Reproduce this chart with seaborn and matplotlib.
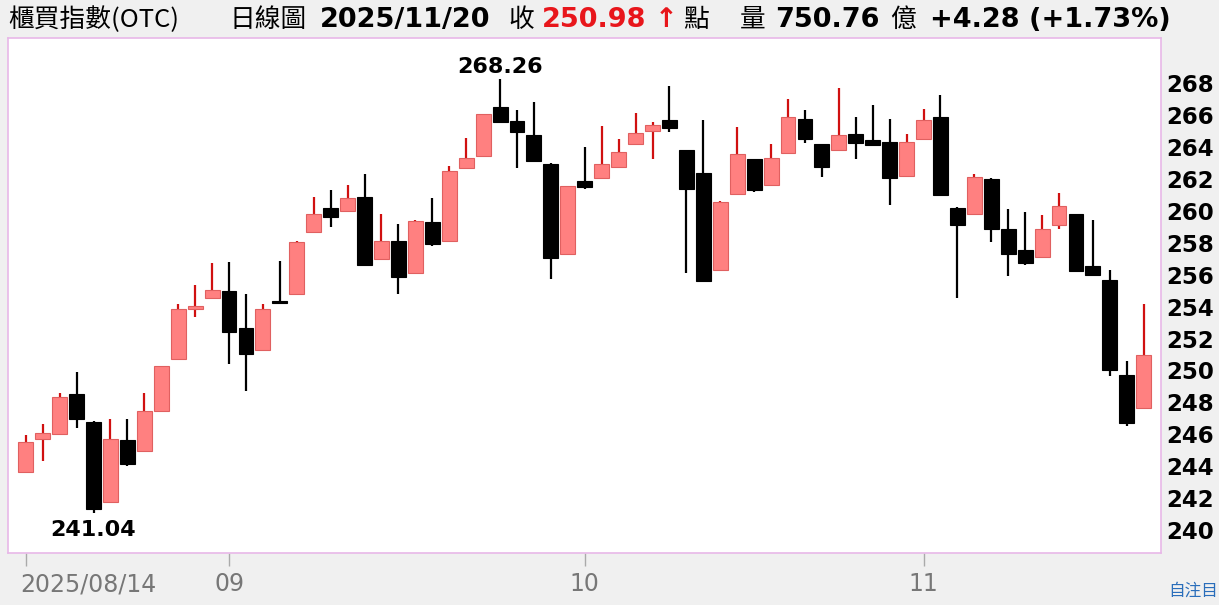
import numpy as np
import pandas as pd
import seaborn as sns
import matplotlib.pyplot as plt
import matplotlib.transforms as mtransforms

# ---------------------------------------------------------
# Datos: índice OTC diario (apertura, máximo, mínimo, cierre)
# ---------------------------------------------------------
fecha_inicio = "2025-08-14"
fecha_fin = "2025-11-20"
feriados = ["2025-09-29", "2025-10-06", "2025-10-10", "2025-10-24"]

aperturas = [243.65, 245.68, 246.01, 248.50, 246.74, 241.77, 245.62, 244.97, 247.47, 250.69,
             253.87, 254.51, 254.99, 252.68, 251.26, 254.27, 254.76, 258.69, 260.15, 259.99,
             260.89, 256.96, 258.11, 256.12, 259.28, 258.11, 262.66, 263.46, 266.48, 265.61,
             264.77, 262.95, 257.27, 261.87, 262.08, 262.77, 264.17, 265.00, 265.67, 263.79,
             262.35, 256.27, 261.03, 263.23, 261.62, 263.64, 265.75, 264.17, 263.79, 264.81,
             264.44, 264.33, 262.18, 264.50, 265.86, 260.20, 259.82, 262.01, 258.88, 257.54,
             257.13, 259.09, 259.80, 256.56, 255.64, 249.71, 247.66]
maximos = [245.95, 246.62, 248.56, 249.92, 246.80, 246.93, 246.95, 248.56, 250.30, 254.16,
           255.35, 256.71, 256.77, 254.79, 254.18, 256.87, 258.08, 260.84, 261.30, 261.60,
           262.29, 259.80, 259.17, 259.40, 260.78, 262.81, 264.54, 266.09, 268.26, 266.32,
           266.84, 262.98, 261.57, 264.02, 265.29, 264.48, 266.15, 265.59, 267.82, 263.82,
           265.67, 260.59, 265.25, 263.25, 264.19, 266.99, 266.32, 264.19, 267.68, 265.86,
           266.63, 265.73, 264.81, 266.38, 267.28, 260.22, 262.29, 262.03, 260.09, 259.92,
           259.74, 261.09, 259.82, 259.40, 256.27, 250.57, 254.18]
minimos = [243.60, 244.34, 245.98, 246.41, 241.04, 241.72, 244.03, 244.95, 247.41, 250.65,
           253.37, 254.49, 250.40, 248.73, 251.22, 254.18, 254.72, 258.66, 258.96, 259.95,
           256.58, 256.93, 254.76, 256.10, 257.79, 258.08, 262.64, 263.44, 265.57, 262.66,
           263.04, 255.71, 257.25, 261.39, 262.06, 262.75, 264.15, 263.23, 264.92, 256.12,
           255.58, 256.25, 261.01, 261.16, 261.60, 263.62, 264.23, 262.14, 263.77, 263.27,
           264.08, 260.36, 262.16, 264.48, 260.97, 254.54, 259.80, 258.07, 255.91, 256.62,
           257.11, 258.88, 256.23, 255.90, 249.67, 246.53, 247.64]
cierres = [245.53, 246.05, 248.31, 246.95, 241.29, 245.68, 244.11, 247.47, 250.27, 253.85,
           254.03, 255.04, 252.38, 251.05, 253.85, 254.22, 258.04, 259.80, 259.63, 260.78,
           256.60, 258.11, 255.83, 259.36, 257.90, 262.49, 263.29, 266.07, 265.59, 264.92,
           263.14, 257.02, 261.55, 261.47, 262.95, 263.69, 264.85, 265.36, 265.21, 261.37,
           255.60, 260.57, 263.54, 261.30, 263.29, 265.88, 264.48, 262.72, 264.73, 264.23,
           264.10, 262.03, 264.33, 265.69, 260.99, 259.13, 262.14, 258.86, 257.29, 256.71,
           258.84, 260.32, 256.25, 255.98, 250.02, 246.70, 250.98]
volumen_ultimo = "750.76"
ticks_y = list(range(240, 270, 2))

fechas = pd.bdate_range(fecha_inicio, fecha_fin)
fechas = fechas[~fechas.isin(pd.to_datetime(feriados))]
df = pd.DataFrame({"fecha": fechas, "apertura": aperturas, "maximo": maximos,
                   "minimo": minimos, "cierre": cierres})
df["pos"] = np.arange(len(df))
df["sube"] = df["cierre"] >= df["apertura"]

# primer día de cada mes -> marca del eje x
mes = df["fecha"].dt.month
inicio_mes = df[mes != mes.shift()]
etiquetas_x = [inicio_mes["fecha"].iloc[0].strftime("%Y/%m/%d")] + \
              [f.strftime("%m") for f in inicio_mes["fecha"].iloc[1:]]

# ---------------------------------------------------------
# Estilo
# ---------------------------------------------------------
sns.set_theme(style="white")
plt.rcParams['font.family'] = ['DejaVu Sans', 'Noto Sans CJK TC']

ROJO_CUERPO = "#ff8080"
ROJO_BORDE = "#e06060"
ROJO_MECHA = "#d01010"
NEGRO = "#000000"
GRIS_FONDO = "#f0f0f0"
ROSA = "#e8b8e8"

W, H = 1219, 605
fig = plt.figure(figsize=(W / 100, H / 100), dpi=100, facecolor=GRIS_FONDO)
ax = fig.add_axes([8 / W, 1 - 553 / H, (1161 - 8) / W, (553 - 38) / H])
ax.set_facecolor("white")

# mechas
for sube, color in [(True, ROJO_MECHA), (False, NEGRO)]:
    d = df[df["sube"] == sube]
    ax.vlines(d["pos"], d["minimo"], d["maximo"], color=color, lw=1.6, zorder=2)

# cuerpos
alto = (df["cierre"] - df["apertura"]).abs().clip(lower=0.12)
base = df[["apertura", "cierre"]].min(axis=1)
ax.bar(df["pos"][df["sube"]], alto[df["sube"]], bottom=base[df["sube"]], width=0.88,
       color=ROJO_CUERPO, edgecolor=ROJO_BORDE, lw=0.8, zorder=3)
ax.bar(df["pos"][~df["sube"]], alto[~df["sube"]], bottom=base[~df["sube"]], width=0.88,
       color=NEGRO, edgecolor=NEGRO, lw=0.8, zorder=3)

# máximo y mínimo del periodo
i_max = df["maximo"].idxmax()
i_min = df["minimo"].idxmin()
ax.annotate(f"{df['maximo'][i_max]:.2f}", (i_max, df["maximo"][i_max]), xytext=(0, 9),
            textcoords="offset points", ha="center", va="center",
            fontsize=16, fontweight="bold", color=NEGRO)
ax.annotate(f"{df['minimo'][i_min]:.2f}", (i_min, df["minimo"][i_min]), xytext=(0, -12),
            textcoords="offset points", ha="center", va="center",
            fontsize=16, fontweight="bold", color=NEGRO)

ax.set_xlim(-1.05, len(df) + 0.02)
ax.set_ylim(238.56, 270.83)

ax.yaxis.tick_right()
ax.set_yticks(ticks_y)
ax.set_yticklabels([str(t) for t in ticks_y], fontsize=16.5, fontweight="bold", color=NEGRO)
ax.tick_params(axis="y", length=0, pad=4)

ax.set_xticks(inicio_mes["pos"])
ax.set_xticklabels(etiquetas_x, fontsize=17, color="#777777")
ax.tick_params(axis="x", bottom=True, length=9, width=1, color="#aaaaaa", pad=5)
primera = ax.get_xticklabels()[0]
primera.set_horizontalalignment("left")
primera.set_transform(primera.get_transform() +
                      mtransforms.ScaledTranslation(-6 / 100, 0, fig.dpi_scale_trans))

for s in ax.spines.values():
    s.set_color(ROSA)
    s.set_linewidth(1.2)

# ---------------------------------------------------------
# Encabezado
# ---------------------------------------------------------
cierre = df["cierre"].iloc[-1]
cambio = cierre - df["cierre"].iloc[-2]
pct = cambio / df["cierre"].iloc[-2] * 100
yh = 1 - 20 / H
cjk = ['Noto Sans CJK TC', 'DejaVu Sans']
piezas = [
    (8, "櫃買指數(OTC)", NEGRO, "normal", cjk),
    (229, "日線圖", NEGRO, "normal", cjk),
    (320, df["fecha"].iloc[-1].strftime("%Y/%m/%d"), NEGRO, "bold", None),
    (508, "收", NEGRO, "normal", cjk),
    (542, f"{cierre:.2f}", "#e8161b", "bold", None),
    (655, "↑", "#e8161b", "bold", None),
    (683, "點", NEGRO, "normal", cjk),
    (740, "量", NEGRO, "normal", cjk),
    (775, volumen_ultimo, NEGRO, "bold", None),
    (890, "億", NEGRO, "normal", cjk),
    (930, f"{cambio:+.2f} ({pct:+.2f}%)", NEGRO, "bold", None),
]
for x, txt, col, peso, fam in piezas:
    kw = {"family": fam} if fam else {}
    tam = 18.5 if fam else 19.5
    fig.text(x / W, yh, txt, ha="left", va="center", fontsize=tam,
             color=col, fontweight=peso, **kw)

fig.text(1168 / W, 1 - 591 / H, "自注目", ha="left", va="center", fontsize=12,
         color="#2a6ebb", family=cjk)

fig.savefig("out.png", dpi=100, facecolor=fig.get_facecolor())
